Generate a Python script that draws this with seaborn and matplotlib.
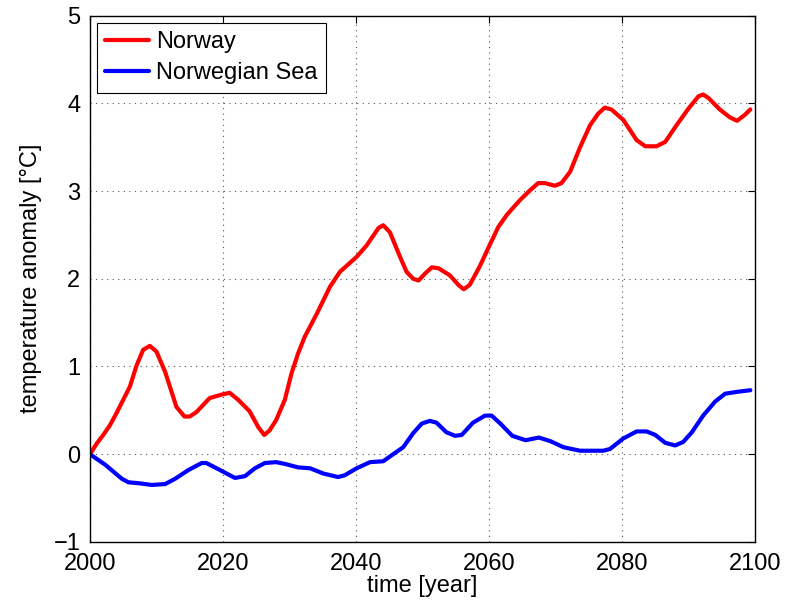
import matplotlib
matplotlib.use("Agg")
import matplotlib.pyplot as plt
import seaborn as sns
import pandas as pd

norway_years = [2000, 2001, 2002, 2003, 2004, 2005, 2006, 2007, 2008, 2009, 2010, 2011.3, 2013, 2014.2,
                2015, 2016, 2018, 2019.8, 2021, 2022.3, 2024, 2025.3, 2026.2, 2027, 2028, 2029.3, 2030.3,
                2031.3, 2032.3, 2034.1, 2036.1, 2037.6, 2040.1, 2041.6, 2043.4, 2044.1, 2045.1, 2046.4,
                2047.6, 2048.6, 2049.4, 2050.4, 2051.4, 2052.4, 2054.1, 2055.4, 2056.2, 2057.1, 2058.6,
                2060.2, 2061.4, 2062.7, 2064.7, 2066.2, 2067.4, 2068.4, 2069.9, 2070.9, 2072.2, 2073.7,
                2075.2, 2076.4, 2077.4, 2078.4, 2080.2, 2082.2, 2083.5, 2085.2, 2086.5, 2088.2, 2090.0,
                2091.5, 2092.2, 2093, 2094.7, 2096.2, 2097.3, 2098.5, 2099.3]
norway_vals = [0, 0.12, 0.22, 0.33, 0.47, 0.62, 0.77, 1.01, 1.19, 1.235, 1.17, 0.94, 0.54, 0.43,
               0.43, 0.48, 0.64, 0.68, 0.70, 0.62, 0.49, 0.31, 0.22, 0.27, 0.39, 0.62, 0.92,
               1.15, 1.34, 1.60, 1.91, 2.08, 2.25, 2.38, 2.58, 2.61, 2.53, 2.29,
               2.08, 2.00, 1.98, 2.06, 2.13, 2.12, 2.04, 1.93, 1.88, 1.93, 2.14,
               2.40, 2.59, 2.73, 2.90, 3.01, 3.09, 3.09, 3.06, 3.09, 3.22, 3.50,
               3.75, 3.88, 3.95, 3.93, 3.81, 3.58, 3.51, 3.51, 3.56, 3.75, 3.94,
               4.08, 4.10, 4.06, 3.93, 3.84, 3.80, 3.87, 3.93]

sea_years = [2000, 2002.3, 2004.8, 2005.8, 2007.3, 2009.3, 2011.3, 2012.8, 2014.8, 2016.8, 2017.5,
             2019.3, 2021.8, 2023.3, 2024.8, 2026.3, 2028, 2029.3, 2031.3, 2033.1, 2035.1, 2037.3,
             2038.3, 2040.1, 2042.1, 2044.1, 2045.4, 2047.1, 2048.6, 2049.9, 2051.1, 2052.1, 2053.6,
             2054.9, 2055.9, 2057.6, 2059.4, 2060.4, 2061.7, 2063.5, 2065.5, 2067.5, 2069.2, 2071.2,
             2073.7, 2077.2, 2078.2, 2080.2, 2082.2, 2083.7, 2085, 2086.5, 2088, 2089.2, 2090.5,
             2092.2, 2094, 2095.5, 2097.2, 2099.3]
sea_vals = [0, -0.12, -0.28, -0.32, -0.33, -0.35, -0.34, -0.28, -0.18, -0.10, -0.10,
            -0.17, -0.27, -0.25, -0.16, -0.10, -0.09, -0.11, -0.15, -0.16, -0.22, -0.26,
            -0.24, -0.16, -0.09, -0.08, -0.01, 0.08, 0.24, 0.35, 0.38, 0.36, 0.25,
            0.21, 0.22, 0.36, 0.44, 0.44, 0.35, 0.21, 0.16, 0.19, 0.15, 0.08,
            0.04, 0.04, 0.06, 0.18, 0.26, 0.26, 0.22, 0.13, 0.10, 0.14, 0.25,
            0.44, 0.60, 0.69, 0.71, 0.73]

series_names = ["Norway", "Norwegian Sea"]
series_colors = ["#ff0000", "#0000ff"]
x_ticks = [2000, 2020, 2040, 2060, 2080, 2100]
y_ticks = [-1, 0, 1, 2, 3, 4, 5]

sns.set_style("white")
plt.rcParams["font.family"] = ["Liberation Sans", "DejaVu Sans"]
plt.rcParams["text.color"] = "black"
plt.rcParams["axes.labelcolor"] = "black"

df = pd.concat([
    pd.DataFrame({"year": norway_years, "value": norway_vals, "series": series_names[0]}),
    pd.DataFrame({"year": sea_years, "value": sea_vals, "series": series_names[1]}),
])

fig = plt.figure(figsize=(7.85, 6.02), dpi=100)
ax = fig.add_axes([0.1146, 0.0997, 0.8472, 0.8745])

sns.lineplot(data=df, x="year", y="value", hue="series", palette=series_colors,
             hue_order=series_names, linewidth=3, ax=ax, sort=False, estimator=None)

ax.set_xlim(2000, 2100)
ax.set_ylim(-1, 5)
ax.set_xticks(x_ticks)
ax.set_yticks(y_ticks)
ax.tick_params(direction="in", top=True, right=True, length=5, width=0.8,
               labelsize=17, colors="black")
ax.tick_params(axis="x", pad=8)
ax.tick_params(axis="y", pad=7)
ax.grid(True, linestyle=(0, (1, 4)), color="#555555", linewidth=0.8)
for s in ax.spines.values():
    s.set_visible(True)
    s.set_color("black")
    s.set_linewidth(1.0)

ax.set_xlabel("time [year]", fontsize=17, labelpad=0)
ax.set_ylabel("temperature anomaly [°C]", fontsize=17, labelpad=8)

leg = ax.legend(loc="upper left", fontsize=17, frameon=True, fancybox=False,
                framealpha=1, edgecolor="black", handlelength=1.85, handletextpad=0.3,
                borderaxespad=0.3, borderpad=0.35, labelspacing=0.4)
leg.get_frame().set_linewidth(0.8)
for line in leg.get_lines():
    line.set_linewidth(3)

fig.savefig("out.png", dpi=100)
